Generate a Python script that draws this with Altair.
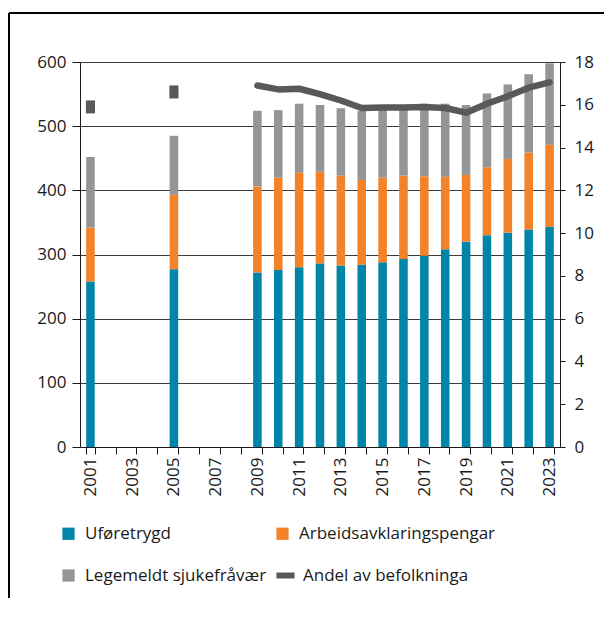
import altair as alt
import pandas as pd

years = [2001, 2005, 2009, 2010, 2011, 2012, 2013, 2014, 2015, 2016,
         2017, 2018, 2019, 2020, 2021, 2022, 2023]
uforetrygd = [258, 277, 272, 276, 280, 286, 283, 284, 288, 293,
              298, 308, 320, 330, 334, 339, 343]
aap = [84, 116, 134, 144, 148, 143, 140, 132, 132, 130,
       124, 113, 104, 106, 115, 120, 128]
sjuke = [110, 92, 118, 105, 107, 104, 105, 108, 106, 104,
         113, 114, 109, 115, 116, 122, 127]
andel = [15.9, 16.6, 16.9, 16.72, 16.75, 16.5, 16.2, 15.85, 15.87, 15.87,
         15.9, 15.85, 15.63, 16.05, 16.4, 16.8, 17.05]

all_years = list(range(2001, 2024))
categories = ["Uføretrygd", "Arbeidsavklaringspengar", "Legemeldt sjukefråvær"]
bar_colors = ["#0085a8", "#f38229", "#939598"]
# legend order (column-major fill in a 2-column legend)
legend_order = ["Uføretrygd", "Legemeldt sjukefråvær", "Arbeidsavklaringspengar"]
legend_colors = ["#0085a8", "#939598", "#f38229"]
line_label = "Andel av befolkninga"
line_color = "#58595b"

rows = []
for i, yr in enumerate(years):
    for k, (cat, vals) in enumerate(zip(categories, [uforetrygd, aap, sjuke])):
        rows.append({"year": yr, "kategori": cat, "verdi": vals[i], "ord": k})
bars_df = pd.DataFrame(rows)
line_df = pd.DataFrame({"year": years, "andel": andel, "serie": [line_label] * len(years)})

FONT = "Open Sans"
TXT = "#1a1a1a"
x_enc = alt.X(
    "year:O",
    scale=alt.Scale(domain=all_years, paddingInner=0.59, paddingOuter=0.295),
    axis=alt.Axis(
        title=None, labelAngle=-90, tickBand="extent", tickSize=7,
        labelExpr="datum.value % 2 == 1 ? datum.label : ''",
        labelOverlap=False, labelFontSize=17, labelColor=TXT,
        labelPadding=3, domainColor=TXT, tickColor=TXT,
        labelFont=FONT,
    ),
)

bars = alt.Chart(bars_df).mark_bar().encode(
    x=x_enc,
    y=alt.Y(
        "verdi:Q", stack="zero",
        scale=alt.Scale(domain=[0, 600], nice=False),
        axis=alt.Axis(
            title=None, values=[0, 100, 200, 300, 400, 500, 600], grid=True,
            gridColor="#3a3a3a", gridWidth=1, domainColor=TXT,
            tickColor=TXT, tickSize=8, labelFontSize=17,
            labelColor=TXT, labelFont=FONT, labelPadding=6,
        ),
    ),
    color=alt.Color(
        "kategori:N",
        scale=alt.Scale(domain=legend_order, range=legend_colors),
        legend=alt.Legend(
            title=None, orient="none", legendX=-20, legendY=463,
            columns=2, columnPadding=7, rowPadding=24, symbolType="square",
            symbolSize=150, symbolStrokeWidth=0, labelFontSize=17,
            labelFont=FONT, labelColor=TXT, labelOffset=8, labelLimit=400,
            padding=0, symbolOpacity=1,
        ),
    ),
    order=alt.Order("ord:Q"),
)

right_axis = alt.Axis(
    title=None, orient="right", values=list(range(0, 20, 2)), grid=False,
    domainColor=TXT, tickColor=TXT, tickSize=5,
    labelFontSize=17, labelColor=TXT, labelFont=FONT, labelPadding=9,
)
y_right = alt.Scale(domain=[0, 18], nice=False)

line = alt.Chart(line_df).transform_filter("datum.year >= 2009").mark_line(
    strokeWidth=6.5, strokeCap="round", strokeJoin="round"
).encode(
    x=alt.X("year:O"),
    y=alt.Y("andel:Q", scale=y_right, axis=right_axis),
    stroke=alt.Stroke(
        "serie:N",
        scale=alt.Scale(domain=[line_label], range=[line_color]),
        legend=alt.Legend(
            title=None, orient="none", legendX=193, legendY=501,
            symbolType="stroke", symbolStrokeWidth=6, symbolSize=330,
            labelFontSize=17, labelFont=FONT, labelColor=TXT,
            labelOffset=5, labelLimit=400, padding=0,
        ),
    ),
)

markers = alt.Chart(line_df).transform_filter("datum.year < 2009").mark_point(
    shape="M-0.7,-1L0.7,-1L0.7,1L-0.7,1Z", size=169, filled=True,
    color=line_color, opacity=1, strokeWidth=0,
).encode(
    x=alt.X("year:O"),
    y=alt.Y("andel:Q", scale=y_right, axis=right_axis),
)

frame_df = pd.DataFrame({"f": [0]})
frame_v = alt.Chart(frame_df).mark_rule(color="black", strokeWidth=2).encode(
    x=alt.value(-71), y=alt.value(-49), y2=alt.value(536)
)
frame_h = alt.Chart(frame_df).mark_rule(color="black", strokeWidth=2).encode(
    x=alt.value(-71), x2=alt.value(524), y=alt.value(-49)
)

right = alt.layer(line, markers)
chart = alt.layer(frame_v, frame_h, bars, right).resolve_scale(
    y="independent", color="independent", stroke="independent"
).properties(
    width=480, height=385,
    padding={"left": 0, "top": 4, "right": 0, "bottom": 0},
).configure_view(strokeWidth=0).configure(font=FONT)

chart.save("out.html", embed_options={"renderer": "svg", "actions": False})
